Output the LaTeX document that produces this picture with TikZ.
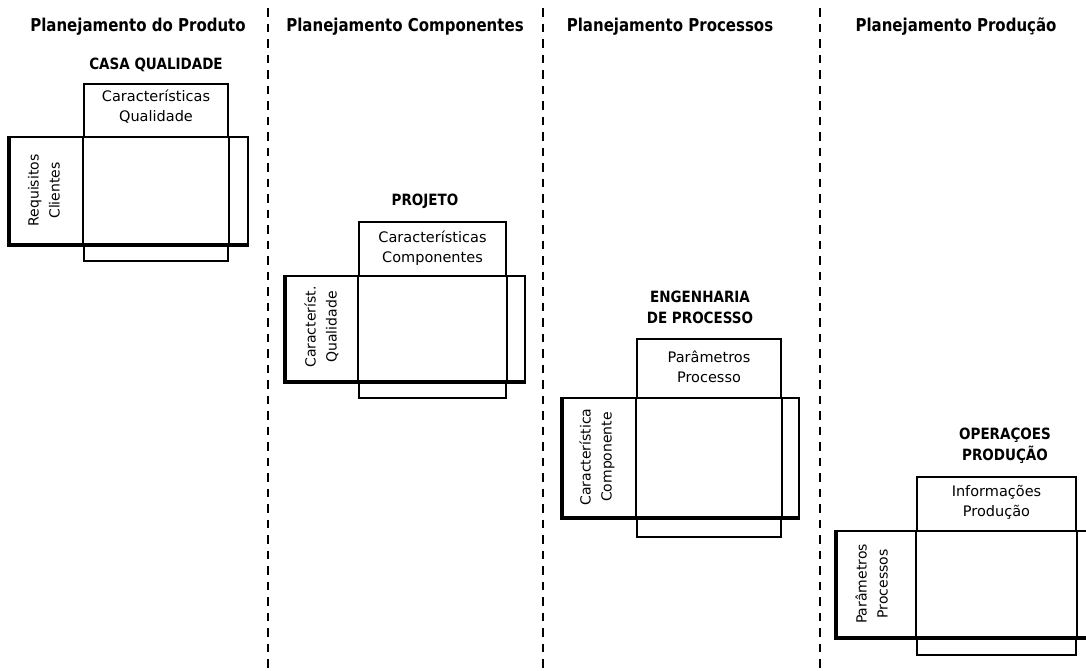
\documentclass[tikz,border=0pt]{standalone}
\usepackage{fontspec}
\setmainfont{DejaVu Sans}
\usetikzlibrary{fit}

\tikzset{
  box/.style={draw, line width=2pt, inner sep=0pt},
  wall/.style={line width=2pt},
  thinwall/.style={line width=1.2pt},
  shade/.style={line width=3.6pt},
  divider/.style={line width=2.6pt, dash pattern=on 8.5pt off 7pt},
  hdr/.style={font=\fontsize{15}{18}\selectfont\bfseries, yscale=1.18},
  ttl/.style={font=\fontsize{13.5}{18}\selectfont\bfseries, align=center, yscale=1.15},
  lbl/.style={font=\fontsize{14.5}{20}\selectfont, align=center},
  side/.style={font=\fontsize{14}{21}\selectfont, align=center, rotate=90},
}

\begin{document}
\begin{tikzpicture}[x=1pt, y=-1pt]
\useasboundingbox (0,0) rectangle (1086,670);
\clip (0,0) rectangle (1086,670);

% column dividers
\coordinate (d1t) at (268,8);   \coordinate (d1b) at (268,670);
\coordinate (d2t) at (543,8);   \coordinate (d2b) at (543,670);
\coordinate (d3t) at (820,8);   \coordinate (d3b) at (820,670);
\draw[divider] (d1t) -- (d1b);
\draw[divider] (d2t) -- (d2b);
\draw[divider] (d3t) -- (d3b);

% column headings
\node[hdr] (h1) at (138,27) {Planejamento do Produto};
\node[hdr] (h2) at (405,27) {Planejamento Componentes};
\node[hdr] (h3) at (670,27) {Planejamento Processos};
\node[hdr] (h4) at (956,27) {Planejamento Produção};

% ---- house 1: casa da qualidade
\node[ttl] (t1) at (156,65) {CASA QUALIDADE};
\node[box, fit={(84,84)(228,137)}] (a1) {};
\node[box, fit={(10,137)(248,244)}] (w1) {};
\node[box, fit={(84,244)(228,261)}] (b1) {};
\draw[wall] (a1.south west) -- (b1.north west);
\draw[wall] (a1.south east) -- (b1.north east);
\draw[shade] (w1.north west) -- (w1.south west) -- (w1.south east);
\node[lbl] (l1) at ([yshift=4pt]a1.center) {Características\\Qualidade};
\node[side] (s1) at (44,190.5) {Requisitos\\Clientes};

% ---- house 2: projeto
\node[ttl] (t2) at (425,201) {PROJETO};
\node[box, fit={(359,222)(506,276)}] (a2) {};
\node[box, fit={(286,276)(525,381)}] (w2) {};
\node[box, fit={(359,381)(506,398)}] (b2) {};
\draw[wall] (a2.south west) -- (b2.north west);
\draw[thinwall] (a2.south east) -- (b2.north east);
\draw[shade] (w2.north west) -- (w2.south west) -- (w2.south east);
\node[lbl] (l2) at ([yshift=1pt]a2.center) {Características\\Componentes};
\node[side] (s2) at (321.5,327) {Característ.\\Qualidade};

% ---- house 3: engenharia de processo
\node[ttl] (t3) at (700,307.5) {ENGENHARIA\\DE PROCESSO};
\node[box, fit={(637,339)(781,398)}] (a3) {};
\node[box, fit={(563,398)(799,517)}] (w3) {};
\node[box, fit={(637,517)(781,537)}] (b3) {};
\draw[wall] (a3.south west) -- (b3.north west);
\draw[thinwall] (a3.south east) -- (b3.north east);
\draw[shade] (w3.north west) -- (w3.south west) -- (w3.south east);
\node[lbl] (l3) at ([yshift=2pt]a3.center) {Parâmetros\\Processo};
\node[side] (s3) at (597,457) {Característica\\Componente};

% ---- house 4: operacoes de producao
\node[ttl] (t4) at (1005,446) {OPERAÇOES\\PRODUÇÃO};
\node[box, fit={(917,477)(1076,531)}] (a4) {};
\node[box, fit={(837,531)(1100,637)}] (w4) {};
\node[box, fit={(917,637)(1076,655)}] (b4) {};
\draw[wall] (a4.south west) -- (b4.north west);
\draw[thinwall] (a4.south east) -- (b4.north east);
\draw[shade] (w4.north west) -- (w4.south west) -- (w4.south east);
\node[lbl] (l4) at ([yshift=1.5pt]a4.center) {Informações\\Produção};
\node[side] (s4) at (871.5,584) {Parâmetros\\Processos};
\end{tikzpicture}
\end{document}
